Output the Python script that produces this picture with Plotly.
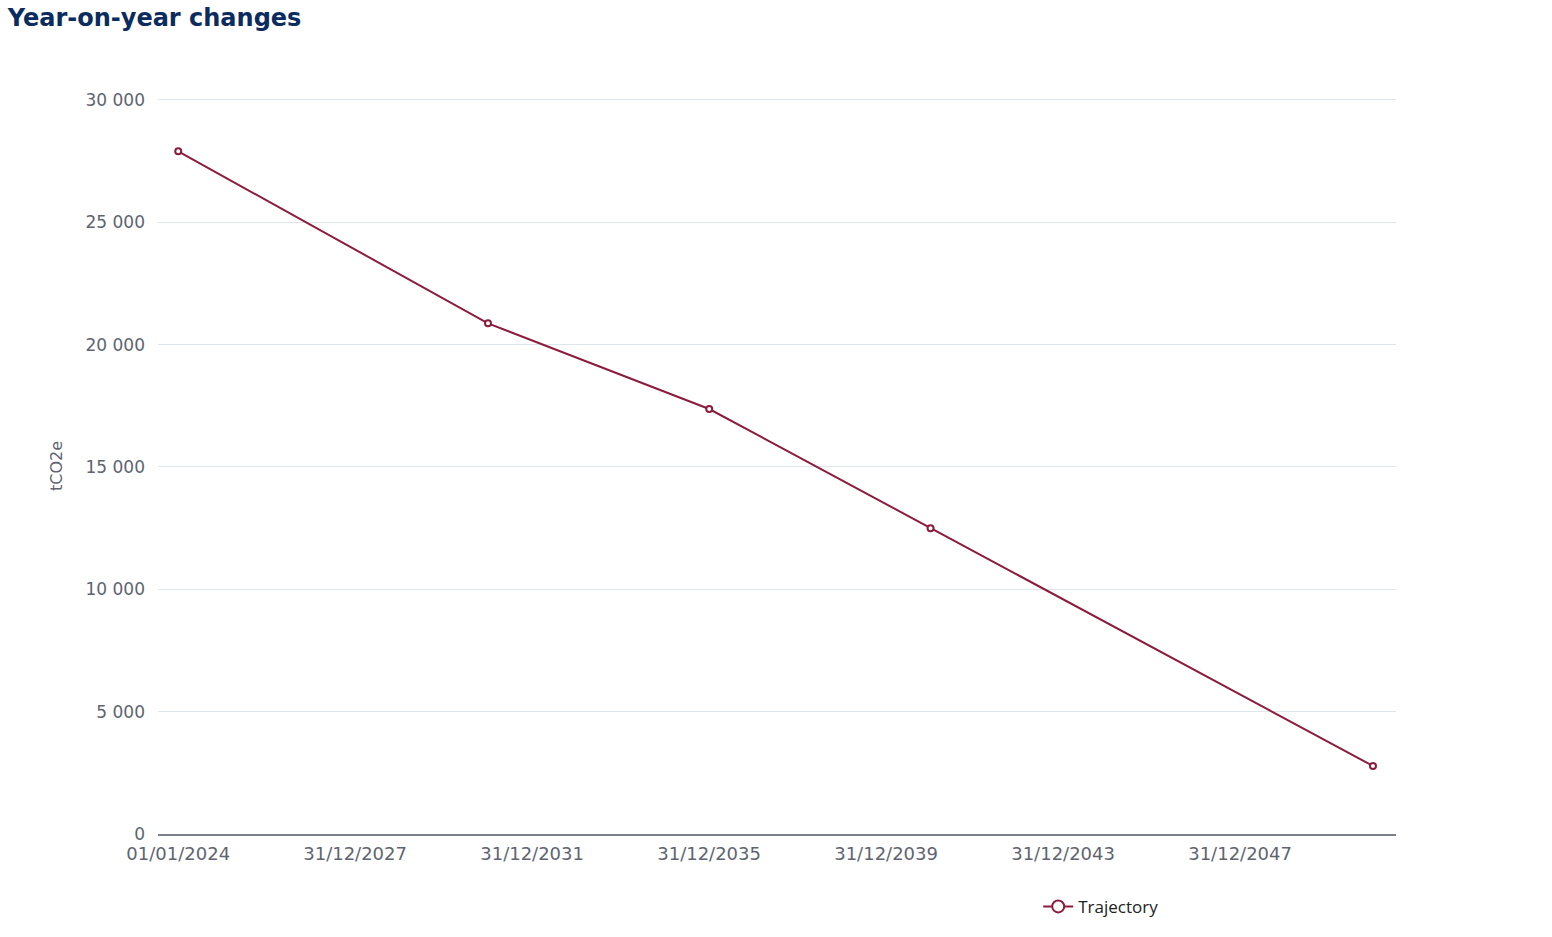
import plotly.graph_objects as go

# Data
dates = ["2024-01-01", "2031-01-01", "2036-01-01", "2041-01-01", "2051-01-01"]
values = [27900, 20870, 17370, 12500, 2780]
series_name = "Trajectory"

tick_dates = ["2024-01-01", "2027-12-31", "2031-12-31", "2035-12-31",
              "2039-12-31", "2043-12-31", "2047-12-31"]
tick_labels = ["01/01/2024", "31/12/2027", "31/12/2031", "31/12/2035",
               "31/12/2039", "31/12/2043", "31/12/2047"]
y_ticks = [0, 5000, 10000, 15000, 20000, 25000, 30000]

LINE = "#8c1c3c"
TICK = "#5f6470"
TFONT = "DejaVu Sans"

fig = go.Figure()
fig.add_trace(go.Scatter(
    x=dates, y=values, name=series_name, mode="lines+markers",
    line=dict(color=LINE, width=2),
    marker=dict(symbol="circle", size=6, color="white",
                line=dict(color=LINE, width=2)),
    showlegend=False,
))
# legend entry with larger marker
fig.add_trace(go.Scatter(
    x=[None], y=[None], name=series_name, mode="lines+markers",
    line=dict(color=LINE, width=2),
    marker=dict(symbol="circle", size=12, color="white",
                line=dict(color=LINE, width=2)),
    showlegend=True,
))

fig.update_layout(
    width=1552, height=937,
    margin=dict(l=158, r=156, t=98, b=96),
    paper_bgcolor="white", plot_bgcolor="white",
    font=dict(family=TFONT, color=TICK, size=16),
    separators=". ",
    title=dict(text="<b>Year-on-year changes</b>", x=0.005, xanchor="left",
               y=0.9808, yanchor="middle",
               font=dict(family="DejaVu Sans", size=24, color="#0c2b5e")),
    showlegend=True,
    legend=dict(orientation="h", x=0.711, xanchor="left", y=-0.099,
                yanchor="middle",
                font=dict(family="Open Sans", size=17, color="#222222"),
                bgcolor="rgba(0,0,0,0)"),
    xaxis=dict(
        type="date",
        range=["2023-07-18", "2051-07-10"],
        tickvals=tick_dates, ticktext=tick_labels,
        showgrid=False, zeroline=False,
        showline=True, linecolor="#7a7f88", linewidth=1.5,
        ticks="", ticklabelstandoff=3,
        tickfont=dict(size=18, color=TICK),
    ),
    yaxis=dict(
        range=[0, 30081], tickvals=y_ticks, tickformat=",d",
        showgrid=True, gridcolor="#dfe5ec", gridwidth=1,
        zeroline=False, showline=False, ticks="",
        ticklabelstandoff=12,
        tickfont=dict(size=17, color=TICK),
        title=dict(text="tCO2e", font=dict(size=16, color=TICK), standoff=18),
    ),
)

fig.write_html("out.html", config={"displayModeBar": False},
               post_script="document.body.style.margin='0';document.body.style.overflow='hidden';")
